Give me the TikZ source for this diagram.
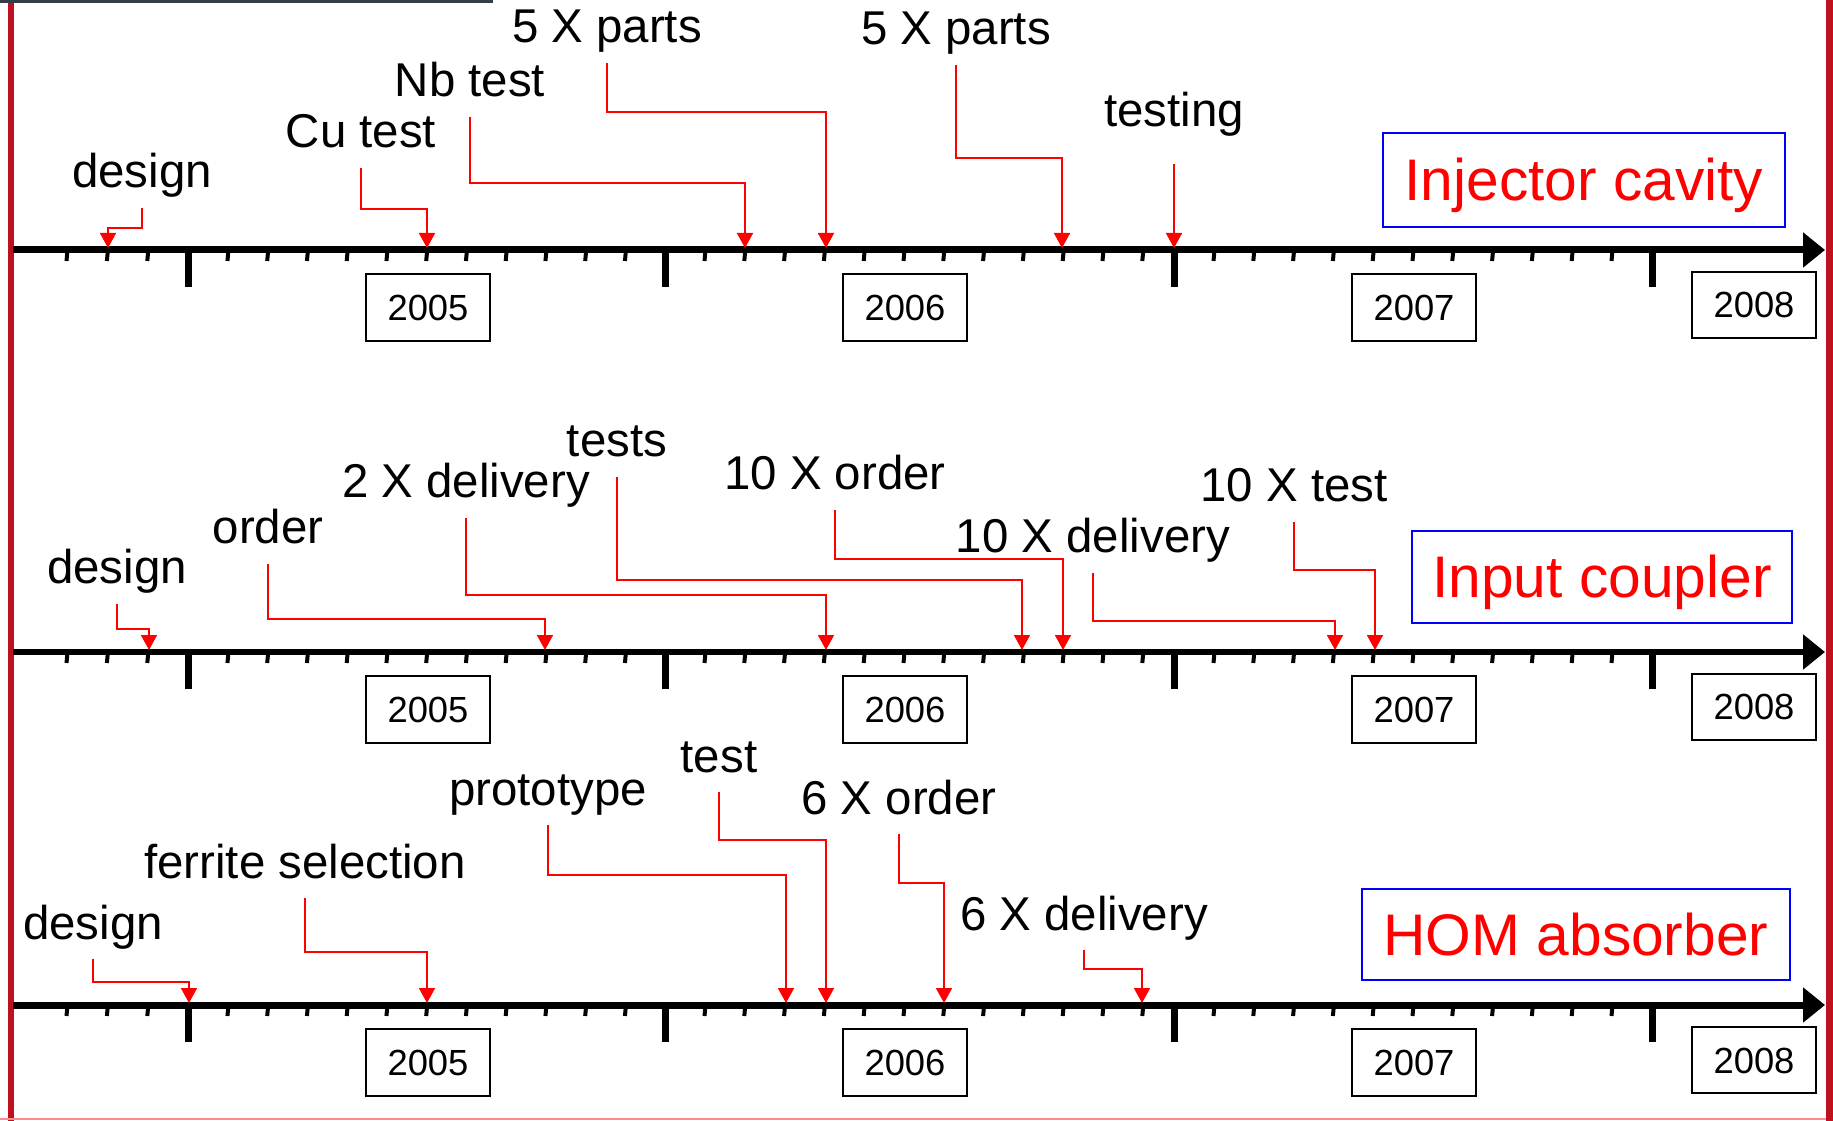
\documentclass[tikz,border=0pt]{standalone}
\usepackage{fontspec}
\setmainfont{Liberation Sans}
\usetikzlibrary{arrows.meta}
\definecolor{framered}{RGB}{190,16,30}
\definecolor{topbar}{RGB}{52,62,70}
\tikzset{
  axisline/.style={line width=0.14cm, -{Triangle[length=0.44cm,width=0.68cm]}},
  majtick/.style={line width=0.14cm},
  mintick/.style={line width=0.08cm},
  yearbox/.style={draw, line width=0.04cm, minimum width=2.48cm, minimum height=1.34cm,
    inner sep=0, text height=0.52cm, text depth=0cm, font=\fontsize{20.7}{24}\selectfont},
  catbox/.style={draw=blue, line width=0.03cm, text=red, inner sep=0,
    text height=0.84cm, text depth=0cm, font=\fontsize{33.4}{40}\selectfont},
  event/.style={anchor=base, inner sep=0, text depth=0.4cm, font=\fontsize{27}{32}\selectfont},
  pointer/.style={red, line width=0.035cm, -{Triangle[length=0.3cm,width=0.32cm]}}
}

\begin{document}
\begin{tikzpicture}[x=0.02cm, y=-0.02cm]
  \useasboundingbox (0,0) rectangle (1833,1121);
  % slide frame
  \fill[topbar] (0,0) rectangle (493,3);
  \fill[framered] (7.5,3) rectangle (14,1121);
  \fill[framered] (1826,0) rectangle (1833,1121);
  \draw[red!45, line width=0.04cm] (0,1119) -- (1826,1119);

  % the three time axes
  \foreach \row/\ay in {A/250,B/652,C/1005}{
    \coordinate (ax\row) at (13,\ay);
    \coordinate (tip\row) at (0,\ay-2);
    \draw[axisline] (ax\row) -- ++(1812,0);
    \foreach \tx in {188,665,1174,1652}
      \draw[majtick] (\tx,\ay) -- ++(0,37);
    \foreach \s/\d/\n in {188/-40.4/3,188/39.75/11,665/39.8/12,1174/39.8/11}
      \foreach \k in {1,...,\n}
        \draw[mintick] (\s+\d*\k+0.7,\ay) -- ++(-1,11);
    \node[yearbox] (y05\row) at (428,\ay+57.5) {2005};
    \node[yearbox] (y06\row) at (905,\ay+57.5) {2006};
    \node[yearbox] (y07\row) at (1414,\ay+57.5) {2007};
    \node[yearbox] (y08\row) at (1754,\ay+55) {2008};
  }

  % injector cavity
  \node[catbox, minimum width=8.04cm, minimum height=1.88cm] (injcav) at (1584,180) {Injector cavity};
  \node[event] (dsgnA) at (142,188) {design};
  \node[event] (cutestA) at (361,148) {Cu test};
  \node[event] (nbtestA) at (470,97) {Nb test};
  \node[event] (partsA) at (607,43) {5 X parts};
  \node[event] (partsbA) at (956,45) {5 X parts};
  \node[event] (testingA) at (1174,127) {testing};
  \draw[pointer] (dsgnA.south) |- (108,228) -- (108,228 |- tipA);
  \draw[pointer] (cutestA.south) |- (427,209) -- (427,209 |- tipA);
  \draw[pointer] (nbtestA.south) |- (745,183) -- (745,183 |- tipA);
  \draw[pointer] (partsA.south) |- (826,112) -- (826,112 |- tipA);
  \draw[pointer] (partsbA.south) |- (1062,158) -- (1062,158 |- tipA);
  \draw[pointer, shorten <=0.34cm] (testingA.south) -- (testingA.south |- tipA);

  % input coupler
  \node[catbox, minimum width=7.6cm, minimum height=1.84cm] (inpcpl) at (1602,577) {Input coupler};
  \node[event] (dsgnB) at (117,584) {design};
  \node[event] (orderB) at (268,544) {order};
  \node[event] (dlvB) at (466,498) {2 X delivery};
  \node[event] (testsB) at (617,457) {tests};
  \node[event] (ordtenB) at (835,490) {10 X order};
  \node[event] (dlvtenB) at (1093,553) {10 X delivery};
  \node[event] (testtenB) at (1294,502) {10 X test};
  \draw[pointer] (dsgnB.south) |- (149,629) -- (149,629 |- tipB);
  \draw[pointer] (orderB.south) |- (545,619) -- (545,619 |- tipB);
  \draw[pointer] (dlvB.south) |- (826,595) -- (826,595 |- tipB);
  \draw[pointer] (testsB.south) |- (1022,580) -- (1022,580 |- tipB);
  \draw[pointer] (ordtenB.south) |- (1063,559) -- (1063,559 |- tipB);
  \draw[pointer] (dlvtenB.south) |- (1335,621) -- (1335,621 |- tipB);
  \draw[pointer] (testtenB.south) |- (1375,570) -- (1375,570 |- tipB);

  % HOM absorber
  \node[catbox, minimum width=8.56cm, minimum height=1.82cm] (homabs) at (1576,934.5) {HOM absorber};
  \node[event] (dsgnC) at (93,939) {design};
  \node[event] (ferriteC) at (305,878) {ferrite selection};
  \node[event] (protoC) at (548,805) {prototype};
  \node[event] (testC) at (719,772) {test};
  \node[event] (ordsixC) at (899,814) {6 X order};
  \node[event] (dlvsixC) at (1084,930) {6 X delivery};
  \draw[pointer] (dsgnC.south) |- (189,982) -- (189,982 |- tipC);
  \draw[pointer] (ferriteC.south) |- (427,952) -- (427,952 |- tipC);
  \draw[pointer] (protoC.south) |- (786,875) -- (786,875 |- tipC);
  \draw[pointer] (testC.south) |- (826,840) -- (826,840 |- tipC);
  \draw[pointer] (ordsixC.south) |- (944,883) -- (944,883 |- tipC);
  \draw[pointer] (dlvsixC.south) |- (1142,969) -- (1142,969 |- tipC);
\end{tikzpicture}
\end{document}
